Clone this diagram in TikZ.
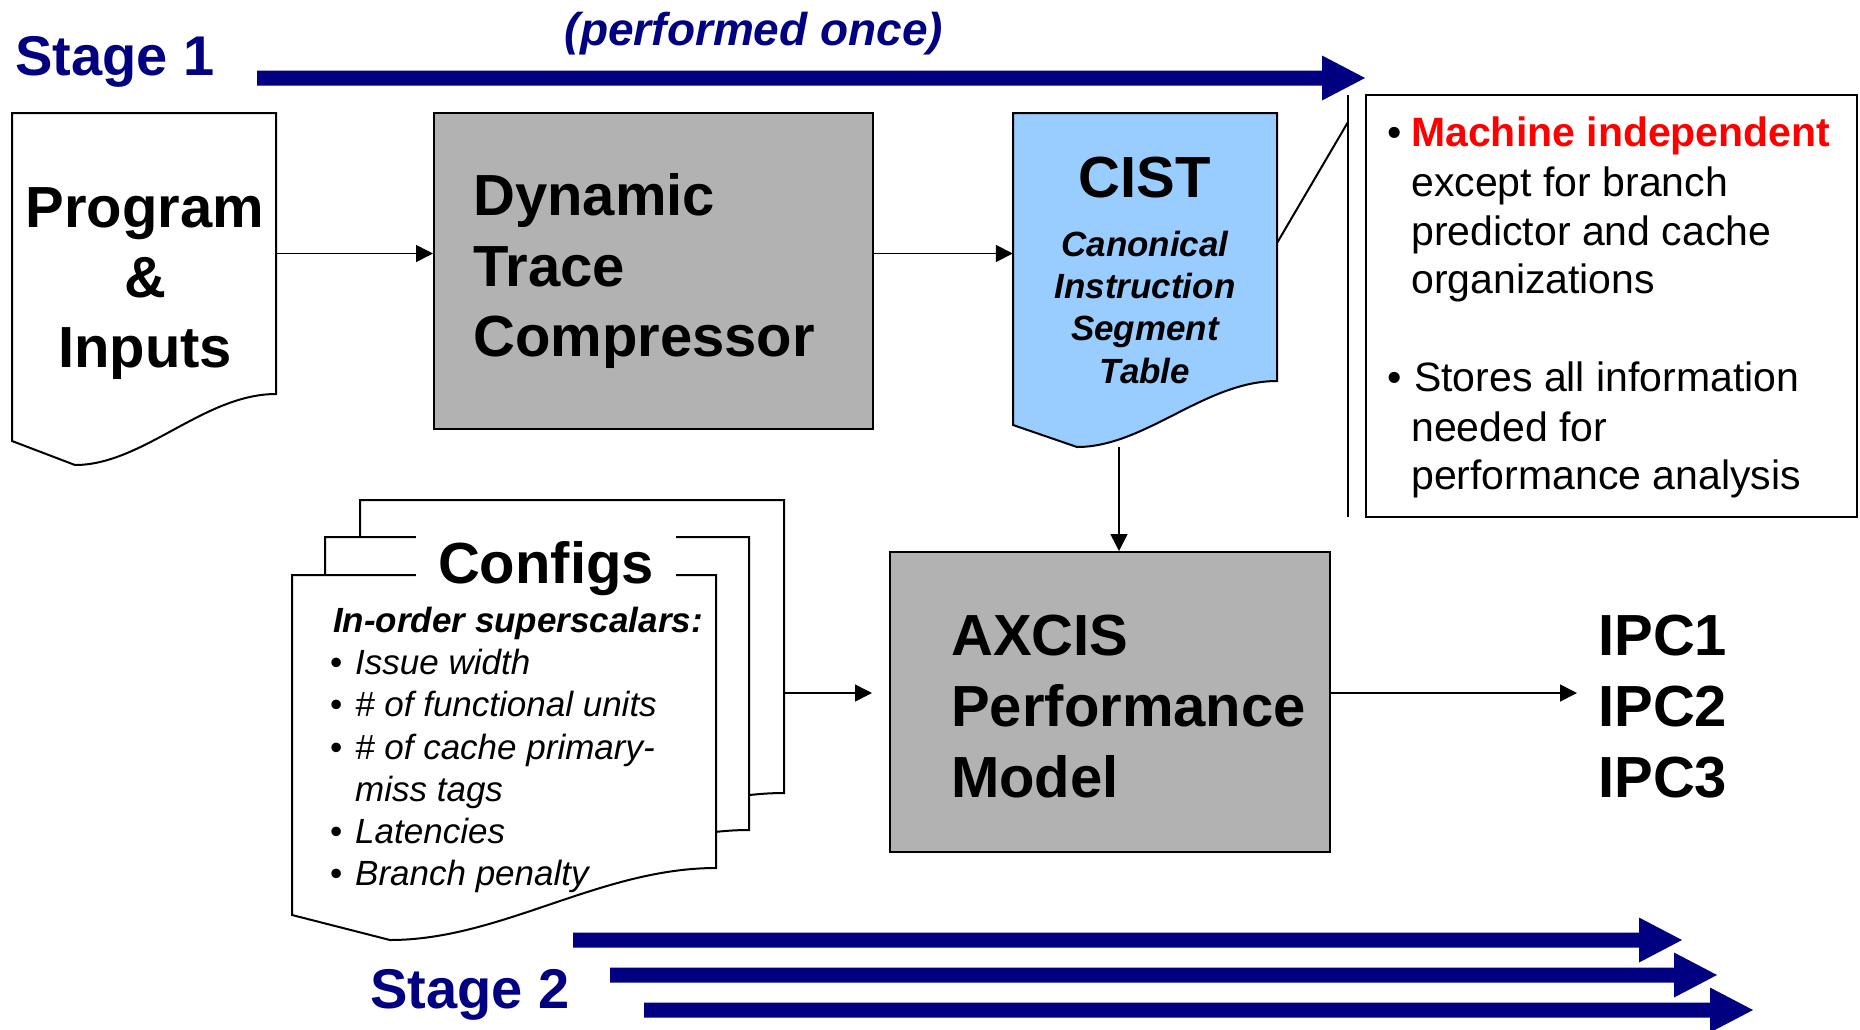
\documentclass[tikz,border=0pt]{standalone}
\usepackage{fontspec}
\setmainfont{Liberation Sans}
\usetikzlibrary{arrows.meta}
\definecolor{navy}{HTML}{000080}
\definecolor{boxgray}{HTML}{B2B2B2}
\definecolor{cistblue}{HTML}{99CCFF}
\newcommand\navyarrow[3]{\fill[navy] (#1,#3-7.5) -- (#2-43,#3-7.5) -- (#2-43,#3-22.5) -- (#2,#3) -- (#2-43,#3+22.5) -- (#2-43,#3+7.5) -- (#1,#3+7.5) -- cycle;}
\begin{document}
\begin{tikzpicture}[x=1pt,y=-1pt,
  txt/.style={inner sep=0pt, anchor=base},
  txtl/.style={inner sep=0pt, anchor=base west},
  bigtxt/.style={font=\fontsize{58}{70}\selectfont\bfseries},
  stagetxt/.style={font=\fontsize{56}{67}\selectfont\bfseries, text=navy},
  oncetxt/.style={font=\fontsize{46}{55}\selectfont\bfseries\itshape, text=navy},
  cisttxt/.style={font=\fontsize{35}{42}\selectfont\bfseries\itshape},
  cfgtxt/.style={font=\fontsize{35}{42}\selectfont\itshape},
  notetxt/.style={font=\fontsize{41}{49}\selectfont},
  bframe/.style={draw=black, line width=2pt, line join=miter},
  holder/.style={draw=none, inner sep=0pt},
  conn/.style={line width=1.6pt, -{Triangle[length=17pt,width=17pt]}},
  thinln/.style={line width=2pt},
]
\useasboundingbox (0,0) rectangle (1860,1029);

% ---------------- stage arrows
\navyarrow{257}{1365}{78}
\navyarrow{573}{1682}{940}
\navyarrow{610}{1717}{975}
\navyarrow{644}{1753}{1010}
\node[txtl, stagetxt] (st1) at (15,75) {Stage 1};
\node[txt, oncetxt] (once) at (754,45) {(performed once)};
\node[txtl, stagetxt] (st2) at (370,1008) {Stage 2};

% ---------------- Program & Inputs
\draw[bframe, fill=white] (12,113) -- (276,113) -- (276,394) .. controls (204,394) and (143,465) .. (75,465) -- (12,441) -- cycle;
\node[holder, minimum width=264pt, minimum height=281pt] (prog) at (144,253.5) {};
\node[txt, bigtxt] (progA) at (145,227) {Program};
\node[txt, bigtxt] (progB) at (145,297) {\&};
\node[txt, bigtxt] (progC) at (145,367) {Inputs};

% ---------------- Dynamic Trace Compressor
\node[bframe, fill=boxgray, minimum width=439pt, minimum height=316pt, inner sep=0pt] (dtc) at (653.5,271) {};
\node[txtl, bigtxt] (dtcA) at (473,215) {Dynamic};
\node[txtl, bigtxt] (dtcB) at (473,286) {Trace};
\node[txtl, bigtxt] (dtcC) at (473,356) {Compressor};

% ---------------- CIST
\draw[bframe, fill=cistblue] (1013,113) -- (1277,113) -- (1277,381) .. controls (1205,381) and (1145,447) .. (1077,447) -- (1013,425) -- cycle;
\node[holder, minimum width=264pt, minimum height=268pt] (cist) at (1145,247) {};
\node[txt, bigtxt] (cistA) at (1145,197) {CIST};
\node[txt, cisttxt] (cistB) at (1145,256) {Canonical};
\node[txt, cisttxt] (cistC) at (1145,298) {Instruction};
\node[txt, cisttxt] (cistD) at (1145,340) {Segment};
\node[txt, cisttxt] (cistE) at (1145,383) {Table};

% ---------------- callout note
\coordinate (calloutA) at (1277,243);
\coordinate (calloutB) at (1348,122);
\coordinate (brT) at (1348,95);
\coordinate (brB) at (1348,517);
\draw[thinln] (calloutA) -- (calloutB);
\draw[thinln] (brT) -- (brB);
\node[bframe, minimum width=491pt, minimum height=422pt, inner sep=0pt] (note) at (1611.5,306) {};
\node[txtl, notetxt] (nb1) at (1387,146) {•};
\node[txtl, notetxt, text=red, font=\fontsize{41}{49}\selectfont\bfseries] (n1) at (1411,146) {Machine independent};
\node[txtl, notetxt] (n2) at (1411,196) {except for branch};
\node[txtl, notetxt] (n3) at (1411,245) {predictor and cache};
\node[txtl, notetxt] (n4) at (1411,293) {organizations};
\node[txtl, notetxt] (nb2) at (1387,391) {•};
\node[txtl, notetxt] (n5) at (1414,391) {Stores all information};
\node[txtl, notetxt] (n6) at (1411,441) {needed for};
\node[txtl, notetxt] (n7) at (1411,489) {performance analysis};

% ---------------- Configs stack
\begin{scope}[shift={(68,-75)}]
\draw[bframe, fill=white] (292,575) -- (716,575) -- (716,868) .. controls (600,868) and (501,940) .. (390,940) -- (292,915) -- cycle;
\end{scope}
\begin{scope}[shift={(33,-38)}]
\draw[bframe, fill=white] (292,575) -- (716,575) -- (716,868) .. controls (600,868) and (501,940) .. (390,940) -- (292,915) -- cycle;
\end{scope}
\draw[bframe, fill=white] (292,575) -- (716,575) -- (716,868) .. controls (600,868) and (501,940) .. (390,940) -- (292,915) -- cycle;
\node[holder, minimum width=424pt, minimum height=293pt] (cfg3) at (572,646.5) {};
\node[holder, minimum width=424pt, minimum height=293pt] (cfg2) at (537,683.5) {};
\node[holder, minimum width=424pt, minimum height=293pt] (cfg1) at (504,721.5) {};
\node[txt, bigtxt, fill=white, inner xsep=0pt, inner ysep=8pt, minimum width=260pt] (cfgtitle) at (546,583) {Configs};
\node[txtl, cisttxt] (cfgh) at (333,632) {In-order superscalars:};
\node[txtl, cfgtxt] (cb1) at (330,674) {\upshape •};
\node[txtl, cfgtxt] (c1) at (355,674) {Issue width};
\node[txtl, cfgtxt] (cb2) at (330,716) {\upshape •};
\node[txtl, cfgtxt] (c2) at (355,716) {\# of functional units};
\node[txtl, cfgtxt] (cb3) at (330,759) {\upshape •};
\node[txtl, cfgtxt] (c3) at (355,759) {\# of cache primary-};
\node[txtl, cfgtxt] (c4) at (355,801) {miss tags};
\node[txtl, cfgtxt] (cb5) at (330,843) {\upshape •};
\node[txtl, cfgtxt] (c5) at (355,843) {Latencies};
\node[txtl, cfgtxt] (cb6) at (330,885) {\upshape •};
\node[txtl, cfgtxt] (c6) at (355,885) {Branch penalty};

% ---------------- AXCIS
\node[bframe, fill=boxgray, minimum width=440pt, minimum height=300pt, inner sep=0pt] (axcis) at (1110,702) {};
\node[txtl, bigtxt] (axA) at (951,655) {AXCIS};
\node[txtl, bigtxt] (axB) at (951,726) {Performance};
\node[txtl, bigtxt] (axC) at (951,797) {Model};

% ---------------- IPC
\node[txtl, bigtxt] (ipc1) at (1598,655) {IPC1};
\node[txtl, bigtxt] (ipc2) at (1598,726) {IPC2};
\node[txtl, bigtxt] (ipc3) at (1598,797) {IPC3};

% ---------------- connectors
\coordinate (lvl) at (0,693);
\coordinate (cistout) at (1119,447);
\draw[conn] (prog.east) -- (dtc.west |- prog.east);
\draw[conn] (dtc.east |- prog.east) -- (cist.west |- prog.east);
\draw[conn] (cistout) -- (cistout |- axcis.north);
\draw[conn, shorten >=17pt] (cfg3.east |- lvl) -- (axcis.west |- lvl);
\draw[conn, shorten >=21pt] (axcis.east |- lvl) -- (ipc2.west |- lvl);
\end{tikzpicture}
\end{document}
